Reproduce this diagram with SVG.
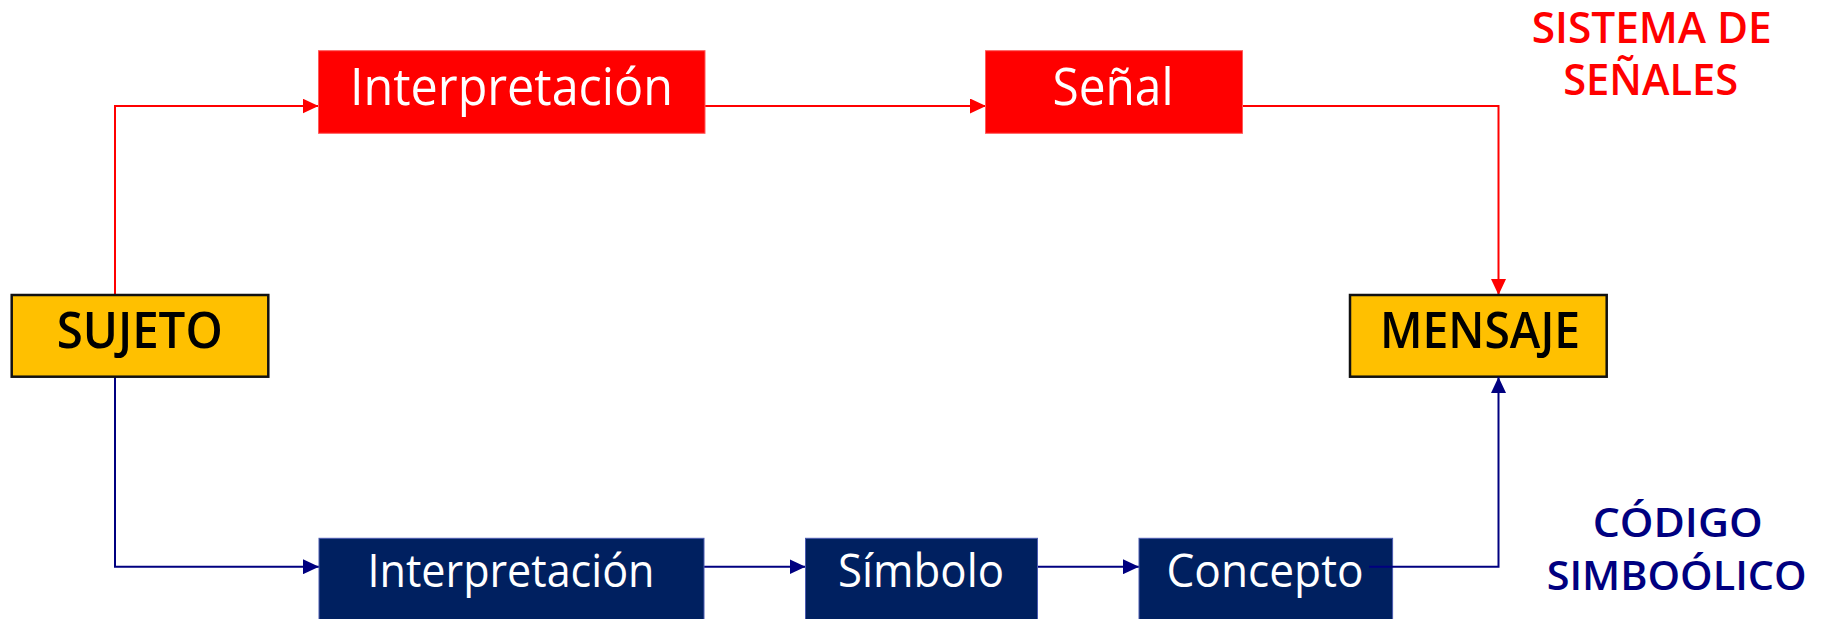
<svg xmlns="http://www.w3.org/2000/svg" width="1827" height="619" viewBox="0 0 1827 619">
  <style>
    .lbl { font-family: "Open Sans", "Noto Sans", "Liberation Sans", sans-serif; text-anchor: middle; }
    .box-red { fill: #FF0000; stroke: #FF5A5A; stroke-width: 1; }
    .box-blue { fill: #002060; stroke: #4A5AB0; stroke-width: 1; }
    .box-gold { fill: #FFC000; stroke: #111111; stroke-width: 2.5; }
    .t-white { fill: #FFFFFF; font-weight: 400; }
    .t-black { fill: #000000; font-weight: 600; }
    .title-red { fill: #FF0000; font-weight: 600; font-size: 43px; }
    .title-blue { fill: #000080; font-weight: 600; font-size: 40px; }
    .wire-red { fill: none; stroke: #FF0000; stroke-width: 2; }
    .wire-blue { fill: none; stroke: #000080; stroke-width: 2; }
  </style>
  <defs>
    <marker id="arrow-red" markerUnits="userSpaceOnUse" markerWidth="16" markerHeight="15" refX="16" refY="7.5" orient="auto">
      <path d="M0,0 L16,7.5 L0,15 z" fill="#FF0000"/>
    </marker>
    <marker id="arrow-blue" markerUnits="userSpaceOnUse" markerWidth="16" markerHeight="15" refX="16" refY="7.5" orient="auto">
      <path d="M0,0 L16,7.5 L0,15 z" fill="#000080"/>
    </marker>
  </defs>

  <rect width="1827" height="619" fill="#FFFFFF"/>

  <!-- connectors -->
  <g id="connectors">
    <path class="wire-red" d="M115,295 V106 H318.5" marker-end="url(#arrow-red)"/>
    <path class="wire-red" d="M705,106 H986" marker-end="url(#arrow-red)"/>
    <path class="wire-red" d="M1242,106 H1498.5 V295" marker-end="url(#arrow-red)"/>
    <path class="wire-blue" d="M115,377 V566.7 H319" marker-end="url(#arrow-blue)"/>
    <path class="wire-blue" d="M704,566.7 H805.5" marker-end="url(#arrow-blue)"/>
    <path class="wire-blue" d="M1037.5,566.7 H1139" marker-end="url(#arrow-blue)"/>
  </g>

  <!-- top row: signal system -->
  <g id="node-interpretacion-senal">
    <rect class="box-red" x="318.5" y="50.7" width="386.5" height="82.6"/>
    <text class="lbl t-white" x="511.5" y="105" font-size="51" textLength="323" lengthAdjust="spacingAndGlyphs">Interpretación</text>
  </g>
  <g id="node-senal">
    <rect class="box-red" x="985.5" y="50.7" width="257" height="82.6"/>
    <text class="lbl t-white" x="1113" y="105" font-size="51" textLength="121" lengthAdjust="spacingAndGlyphs">Señal</text>
  </g>

  <!-- endpoints -->
  <g id="node-sujeto">
    <rect class="box-gold" x="11.7" y="295" width="256.6" height="81.7"/>
    <text class="lbl t-black" x="139.7" y="348.3" font-size="50" textLength="166" lengthAdjust="spacingAndGlyphs">SUJETO</text>
  </g>
  <g id="node-mensaje">
    <rect class="box-gold" x="1350" y="295" width="256.7" height="81.7"/>
    <text class="lbl t-black" x="1480" y="348.3" font-size="50" textLength="200" lengthAdjust="spacingAndGlyphs">MENSAJE</text>
  </g>

  <!-- bottom row: symbolic code -->
  <g id="node-interpretacion-codigo">
    <rect class="box-blue" x="319" y="538.3" width="385" height="82.6"/>
    <text class="lbl t-white" x="511" y="587" font-size="45" textLength="287" lengthAdjust="spacingAndGlyphs">Interpretación</text>
  </g>
  <g id="node-simbolo">
    <rect class="box-blue" x="805.5" y="538.3" width="232" height="82.6"/>
    <text class="lbl t-white" x="921" y="587" font-size="45" textLength="166" lengthAdjust="spacingAndGlyphs">Símbolo</text>
  </g>
  <g id="node-concepto">
    <rect class="box-blue" x="1139" y="538.3" width="253.6" height="82.6"/>
    <text class="lbl t-white" x="1265" y="587" font-size="45" textLength="197" lengthAdjust="spacingAndGlyphs">Concepto</text>
  </g>

  <!-- return path from Concepto up to Mensaje, drawn over its box edge -->
  <g id="connector-concepto-mensaje">
    <path class="wire-blue" d="M1369,566.7 H1498.5 V377" marker-end="url(#arrow-blue)"/>
  </g>

  <!-- side titles -->
  <g id="title-senales">
    <text class="lbl title-red" x="1651.7" y="43.3" textLength="240" lengthAdjust="spacingAndGlyphs">SISTEMA DE</text>
    <text class="lbl title-red" x="1650.7" y="95" textLength="175" lengthAdjust="spacingAndGlyphs">SEÑALES</text>
  </g>
  <g id="title-codigo">
    <text class="lbl title-blue" x="1677.7" y="536.7" textLength="170" lengthAdjust="spacingAndGlyphs">CÓDIGO</text>
    <text class="lbl title-blue" x="1676.7" y="590" textLength="260" lengthAdjust="spacingAndGlyphs">SIMBOÓLICO</text>
  </g>
</svg>
